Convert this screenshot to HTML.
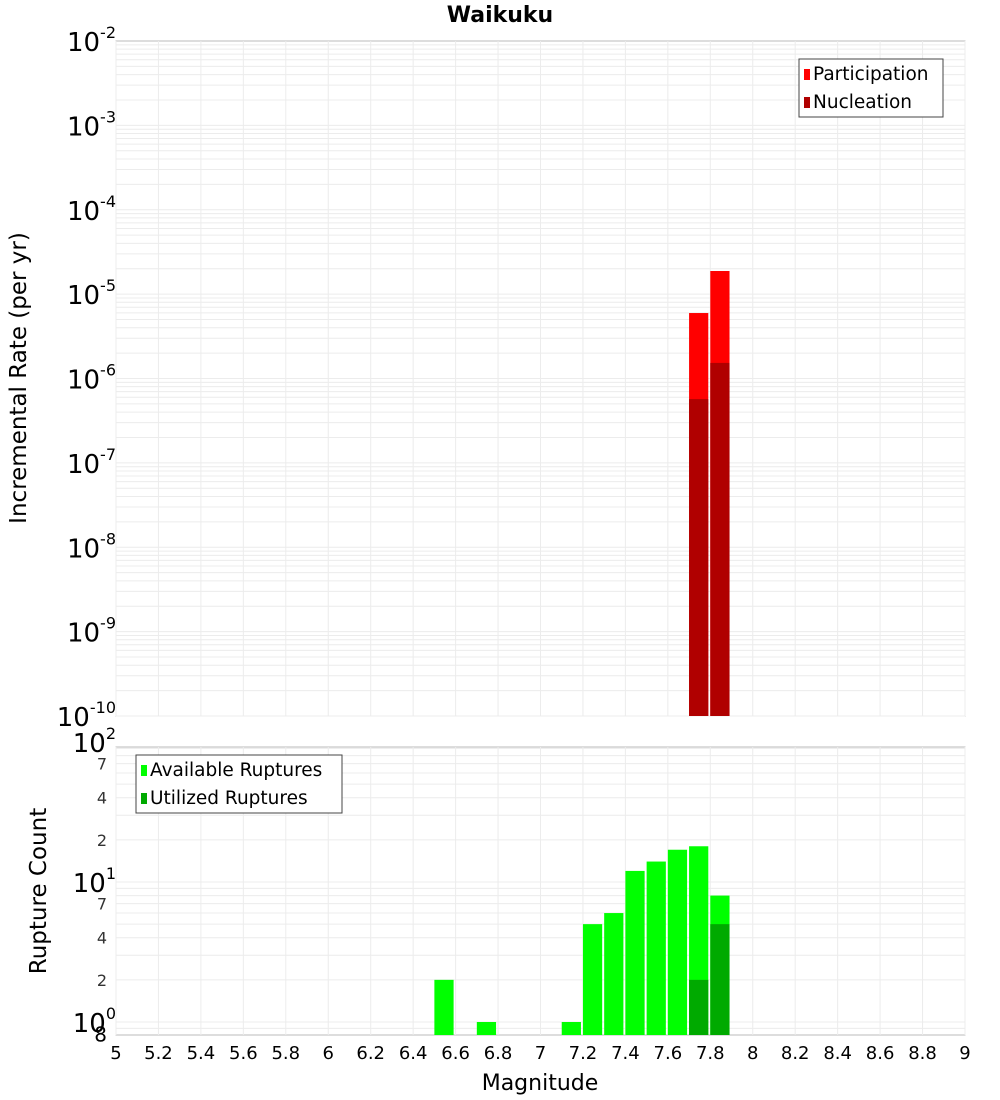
<!DOCTYPE html>
<html><head><meta charset="utf-8"><style>
body{margin:0;background:#fff;}
svg{display:block;font-family:"DejaVu Sans","Liberation Sans",sans-serif;}
</style></head><body>
<svg id="c" width="1000" height="1100">
<text x="500" y="22" text-anchor="middle" font-size="22" font-weight="bold">Waikuku</text>
<text transform="translate(26,378) rotate(-90)" text-anchor="middle" font-size="23">Incremental Rate (per yr)</text>
<text transform="translate(46,891) rotate(-90)" text-anchor="middle" font-size="23">Rupture Count</text>
<text x="540" y="1090" text-anchor="middle" font-size="22">Magnitude</text>
<g id="g"></g>
</svg>
<script>
const mags=[6.55,6.75,7.15,7.25,7.35,7.45,7.55,7.65,7.75,7.85];
const available=[2,1,1,5,6,12,14,17,18,8];
const utilized=[0,0,0,0,0,0,0,0,2,5];
const rateMags=[7.75,7.85];
const participation=[5.97e-6,1.88e-5];
const nucleation=[5.7e-7,1.53e-6];
const xTicks=[5,5.2,5.4,5.6,5.8,6,6.2,6.4,6.6,6.8,7,7.2,7.4,7.6,7.8,8,8.2,8.4,8.6,8.8,9];
const topExps=[-2,-3,-4,-5,-6,-7,-8,-9,-10];
const botExps=[2,1,0];
const NS="http://www.w3.org/2000/svg";
const g=document.getElementById('g');
function el(t,a,p){const e=document.createElementNS(NS,t);for(const k in a)e.setAttribute(k,a[k]);(p||g).appendChild(e);return e;}
const X0=116,X1=965;
const x=v=>X0+(v-5)/4*(X1-X0);
const T0=41,T1=716;
const yT=v=>T0+(-2-Math.log10(v))/8*(T1-T0);
const B0=747,B1=1035;
const yB=v=>1022-Math.log10(v)*140;
let r=el('rect',{x:X0,y:T0,width:X1-X0,height:T1-T0,fill:'#fff',stroke:'#bbb'});

r=el('rect',{x:X0,y:B0,width:X1-X0,height:B1-B0,fill:'#fff',stroke:'#bbb'});

xTicks.forEach(t=>{
 let l=el('line',{x1:x(t),x2:x(t),y1:T0,y2:T1,stroke:'#ececec'});
 
 l=el('line',{x1:x(t),x2:x(t),y1:B0,y2:B1,stroke:'#ececec'});
 
});
for(let e=-10;e<-2;e++)for(let m=1;m<10;m++){const yy=yT(m*Math.pow(10,e));
 const l=el('line',{x1:X0,x2:X1,y1:yy,y2:yy,stroke:'#ececec'});
 }
for(let e=-1;e<2;e++)for(let m=1;m<10;m++){const yy=yB(m*Math.pow(10,e));if(yy<B0||yy>B1)continue;
 const l=el('line',{x1:X0,x2:X1,y1:yy,y2:yy,stroke:'#ececec'});
 }
const bw=x(5.1)-x(5)-2;
rateMags.forEach((m,i)=>{
 let b=el('rect',{x:x(m-0.05),y:yT(participation[i]),width:bw,height:T1-yT(participation[i]),fill:'#ff0000'});
 
 b=el('rect',{x:x(m-0.05),y:yT(nucleation[i]),width:bw,height:T1-yT(nucleation[i]),fill:'#b00000'});
 
});
mags.forEach((m,i)=>{
 let b=el('rect',{x:x(m-0.05),y:yB(available[i]),width:bw,height:B1-yB(available[i]),fill:'#00ff00'});
 
 if(utilized[i]>0){b=el('rect',{x:x(m-0.05),y:yB(utilized[i]),width:bw,height:B1-yB(utilized[i]),fill:'#00aa00'});
 }
});
xTicks.forEach(t=>{const s=el('text',{x:x(t),y:1059,'text-anchor':'middle','font-size':18});s.textContent=String(t);
 });
function pow(px,py,e,nm){const t=el('text',{x:px,y:py,'text-anchor':'end','font-size':26});
 
 const a=el('tspan',{},t);a.textContent='10';const b=el('tspan',{dy:-13,'font-size':16},t);b.textContent=String(e);}
topExps.forEach(e=>pow(116,yT(Math.pow(10,e))+10,e,'top-y-tick-label'));
botExps.forEach(e=>pow(116,yB(Math.pow(10,e))+10,e,'bottom-y-tick-label'));
const minor=[[70,'7'],[40,'4'],[20,'2'],[7,'7'],[4,'4'],[2,'2'],[0.8,'8']];
minor.forEach(([v,s])=>{const t=el('text',{x:107,y:yB(v)+6,'text-anchor':'end','font-size':v===0.8?20:16,fill:v===0.8?'#000':'#333'});t.textContent=s;
 });
function legend(x0,y0,w,items,nm){const lg=el('g',{});
 el('rect',{x:x0,y:y0,width:w,height:58,fill:'#fff',stroke:'#444'},lg);
 items.forEach(([c,s],i)=>{el('rect',{x:x0+5,y:y0+10+i*28,width:6,height:11,fill:c},lg);
  const t=el('text',{x:x0+14,y:y0+21+i*28,'font-size':18.5},lg);t.textContent=s;
  });}
legend(799,59,144,[['#ff0000','Participation'],['#b00000','Nucleation']],'top-legend');
legend(136,755,206,[['#00ff00','Available Ruptures'],['#00aa00','Utilized Ruptures']],'bottom-legend');
</script>
</body></html>
